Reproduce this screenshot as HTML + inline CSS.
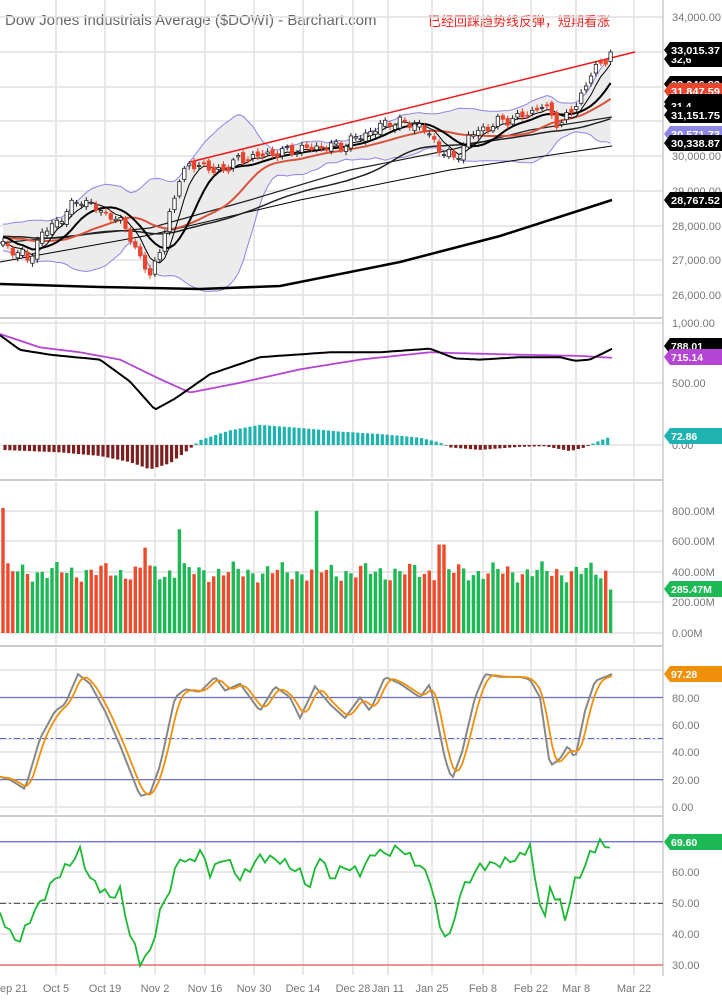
<!DOCTYPE html>
<html><head><meta charset="utf-8">
<style>
html,body{margin:0;padding:0;background:#fff;}
svg{display:block;font-family:"Liberation Sans","Noto Sans CJK SC",sans-serif;}
</style></head>
<body>
<svg id="c" width="722" height="1000" xmlns="http://www.w3.org/2000/svg">
<text x="5" y="25" font-size="15" fill="#666">Dow Jones Industrials Average ($DOWI) - Barchart.com</text>
<text x="428" y="26" font-size="13" fill="#e8251f" font-family="'Noto Sans CJK SC',sans-serif">已经回踩趋势线反弹，短期看涨</text>
</svg>
<script>
const S=document.getElementById('c');const NS='http://www.w3.org/2000/svg';
function el(t,a,txt){const e=document.createElementNS(NS,t);for(const k in a)e.setAttribute(k,a[k]);if(txt!==undefined)e.textContent=txt;S.appendChild(e);return e;}
function interp(kp,x){for(let i=0;i<kp.length-1;i++){if(x<=kp[i+1][0]){const t=(x-kp[i][0])/(kp[i+1][0]-kp[i][0]);return kp[i][1]+t*(kp[i+1][1]-kp[i][1]);}}return kp[kp.length-1][1];}
function pl(pts,stroke,w,extra){el('polyline',Object.assign({points:pts.map(p=>p[0].toFixed(1)+','+p[1].toFixed(1)).join(' '),fill:'none',stroke:stroke,'stroke-width':w},extra||{}));}
const PX=663;
const vx=[56,105,155,205,254,303,353,388,432,483,531,576,634];
const panels=[[0,316],[320,478],[482,644],[648,814],[818,975]];
const hg={0:[17,52,87,121,156,191,226,260,295],1:[323,383,445],2:[511,541,572,602,633],3:[670,698,725,739,752,780,807],4:[842,872,903,934,965]};
panels.forEach((p,i)=>{hg[i].forEach(y=>el('line',{x1:0,x2:PX,y1:y,y2:y,stroke:'#e0e0e0','stroke-width':1.5}));vx.forEach(x=>el('line',{x1:x,x2:x,y1:p[0],y2:p[1],stroke:'#e0e0e0','stroke-width':1.5}));});
[318,480,646,816].forEach(y=>el('line',{x1:0,x2:PX,y1:y,y2:y,stroke:'#ccc','stroke-width':2}));
el('line',{x1:PX,x2:PX,y1:0,y2:976,stroke:'#ccc','stroke-width':1.5});
const py=p=>17+(34000-p)*0.03475;
const kp=[[0,27500],[20,27200],[28,27000],[40,27700],[60,28200],[80,28800],[95,28500],[110,28300],[128,27900],[138,27100],[150,26600],[160,27300],[170,28300],[180,29500],[200,29800],[215,29500],[240,29900],[260,30000],[300,30200],[340,30300],[370,30700],[390,31000],[420,30900],[440,30200],[455,29900],[470,30600],[500,31000],[530,31200],[540,31500],[560,30900],[575,31400],[590,32300],[605,32800],[612,33015]];
const xs=[],C=[],O=[],H=[],L=[];
const hist=[];for(let i=0;i<60;i++)hist.push(27700+250*Math.sin(i*0.4)+100*Math.sin(i*1.7));
let prev=27500;
for(let x=3;x<=612;x+=4.9){xs.push(x);let c=interp(kp,x)+110*Math.sin(x*0.9)+70*Math.sin(x*2.3);const o=prev+90*Math.sin(x*1.3);C.push(c);O.push(o);H.push(Math.max(o,c)+60+50*Math.abs(Math.sin(x*0.7)));L.push(Math.min(o,c)-60-50*Math.abs(Math.cos(x*0.5)));prev=c;}
const all=hist.concat(C);const off=hist.length;
function sma(n,i){let s=0;for(let k=0;k<n;k++)s+=all[off+i-k];return s/n;}
function std(n,i){const m=sma(n,i);let s=0;for(let k=0;k<n;k++)s+=(all[off+i-k]-m)**2;return Math.sqrt(s/n);}
const up=[],lo=[];xs.forEach((x,i)=>{const m=sma(20,i),d=std(20,i);up.push([x,py(m+2*d)]);lo.push([x,py(m-2*d)]);});
el('path',{d:'M'+up.map(p=>p.join(',')).join('L')+'L'+lo.slice().reverse().map(p=>p.join(',')).join('L')+'Z',fill:'#ececec'});
pl(up,'#8c86e6',1);pl(lo,'#8c86e6',1);
pl([[0,284],[100,287],[200,289],[280,286],[400,262],[500,236],[612,200]],'#000',2.5);
pl([[0,262],[150,235],[300,200],[450,170],[612,146]],'#000',1);
pl([[0,243],[150,228],[250,200],[350,170],[450,150],[530,130],[612,117]],'#222',1.2);
pl(xs.map((x,i)=>[x,py(sma(50,i))]),'#222',1.5);
pl(xs.map((x,i)=>[x,py(sma(20,i))]),'#d9533a',2);
pl(xs.map((x,i)=>[x,py(sma(10,i))]),'#000',2);
pl(xs.map((x,i)=>[x,py(sma(5,i))]),'#000',1);
el('line',{x1:190,y1:162,x2:635,y2:52,stroke:'#f01818','stroke-width':1.5});
xs.forEach((x,i)=>{const o=O[i],c=C[i];const dn=c<o;const col=dn?'#e8452e':'#222';el('line',{x1:x,x2:x,y1:py(H[i]),y2:py(L[i]),stroke:col,'stroke-width':1});const t=py(Math.max(o,c)),b=py(Math.min(o,c));el('rect',{x:x-1.7,y:t,width:3.4,height:Math.max(1,b-t),fill:dn?'#e8452e':'#fff',stroke:col,'stroke-width':0.8});});
const my=v=>445-v*0.122;
const mk=[[0,900],[20,780],[50,740],[100,700],[130,520],[155,290],[175,380],[210,580],[260,720],[330,760],[380,760],[430,790],[455,710],[480,700],[520,720],[560,720],[575,690],[590,700],[612,788]];
const sk=[[0,910],[40,800],[80,760],[120,700],[160,540],[190,430],[240,510],[300,620],[360,700],[430,760],[470,750],[520,740],[580,730],[612,715]];
const hk=[[0,-40],[60,-60],[100,-90],[130,-140],[150,-200],[170,-150],[190,-30],[200,40],[230,120],[260,165],[300,140],[340,110],[380,90],[420,60],[440,20],[450,-20],[480,-40],[520,-15],[545,-10],[570,-50],[585,-20],[595,20],[612,73]];
for(let x=5;x<=612;x+=4.9){const v=interp(hk,x);const y0=445,y1=445-v*0.122;el('rect',{x:x-1.6,y:Math.min(y0,y1),width:3.2,height:Math.abs(y1-y0),fill:v<0?'#7b1f1f':'#1fb3b0'});}
const xx=[];for(let x=0;x<=612;x+=3)xx.push(x);
pl(xx.map(x=>[x,my(interp(sk,x))]),'#b545d4',1.8);
pl(xx.map(x=>[x,my(interp(mk,x))]),'#000',2);
const vy=v=>633-v*0.1525;
xs.forEach((x,i)=>{let v=400+40*Math.sin(i*1.9)+30*Math.sin(i*0.7);if(i==0)v=820;if(Math.abs(x-180)<3)v=680;if(Math.abs(x-318)<3)v=800;if(Math.abs(x-441)<3)v=580;if(Math.abs(x-146)<3)v=560;if(i==xs.length-1)v=285;const g=i==0?false:C[i]>=C[i-1];el('rect',{x:x-1.7,y:vy(v),width:3.4,height:633-vy(v),fill:g?'#1db954':'#ec4b2c'});});
const sy=v=>807-v*1.37;
el('line',{x1:0,x2:PX,y1:sy(80),y2:sy(80),stroke:'#5560d0','stroke-width':1});
el('line',{x1:0,x2:PX,y1:sy(20),y2:sy(20),stroke:'#5560d0','stroke-width':1});
el('line',{x1:0,x2:PX,y1:sy(50),y2:sy(50),stroke:'#5560d0','stroke-width':1,'stroke-dasharray':'6,3,2,3'});
const kk=[[0,22],[10,20],[25,13],[40,50],[55,70],[65,75],[78,97],[90,90],[105,70],[120,45],[140,8],[150,10],[160,30],[175,80],[185,86],[200,84],[215,95],[225,85],[240,90],[260,70],[275,88],[290,80],[300,65],[315,88],[330,75],[345,65],[360,80],[370,70],[385,95],[400,90],[420,80],[430,90],[445,35],[452,20],[462,40],[475,80],[485,97],[500,95],[520,95],[530,93],[540,80],[550,30],[560,35],[568,45],[575,35],[585,70],[595,92],[612,97]];
const kv=xx.map(x=>interp(kk,x));
const dv=kv.map((v,i)=>{let s=0,n=0;for(let k=0;k<4;k++){if(i-k>=0){s+=kv[i-k];n++;}}return s/n;});
pl(xx.map((x,i)=>[x,sy(kv[i])]),'#888',2);
pl(xx.map((x,i)=>[x,sy(dv[i])]),'#f0900a',1.8);
const ry=v=>965-(v-30)*3.08;
el('line',{x1:0,x2:PX,y1:ry(70),y2:ry(70),stroke:'#4455dd','stroke-width':1});
el('line',{x1:0,x2:PX,y1:ry(30),y2:ry(30),stroke:'#e33','stroke-width':1});
el('line',{x1:0,x2:PX,y1:ry(50),y2:ry(50),stroke:'#444','stroke-width':1,'stroke-dasharray':'6,3,2,3'});
const rk=[[0,47],[10,40],[20,38],[30,45],[40,50],[55,58],[70,63],[80,67],[90,58],[100,55],[110,52],[120,54],[130,40],[140,31],[150,34],[160,47],[170,55],[180,65],[190,63],[200,67],[210,60],[225,65],[240,58],[260,65],[280,64],[300,60],[310,55],[320,66],[330,58],[345,62],[360,60],[375,67],[385,66],[400,68],[410,65],[420,62],[430,58],[440,42],[450,39],[460,53],[470,58],[480,62],[500,63],[520,65],[530,69],[535,57],[545,45],[550,55],[560,50],[565,45],[575,57],[585,62],[590,66],[600,70],[605,68],[612,70]];
const rx=[];for(let x=0;x<=612;x+=5)rx.push(x);
pl(rx.map(x=>[x,ry(interp(rk,x)+1.5*Math.sin(x*0.8))]),'#1db934',1.8);
function lab(y,t){el('text',{x:672,y:y+4,'font-size':11,fill:'#777'},t);}
[['34,000.00',17],['30,000.00',156],['29,000.00',191],['28,000.00',226],['27,000.00',260],['26,000.00',295],['1,000.00',323],['500.00',383],['0.00',445],['800.00M',511],['600.00M',541],['400.00M',572],['200.00M',602],['0.00M',633],['80.00',698],['60.00',725],['40.00',752],['20.00',780],['0.00',807],['60.00',872],['50.00',903],['40.00',934],['30.00',965]].forEach(a=>lab(a[1],a[0]));
function tag(y,t,bg,fg){el('path',{d:`M664,${y} L670,${y-8} L722,${y-8} L722,${y+8} L670,${y+8} Z`,fill:bg});el('text',{x:671,y:y+4,'font-size':10.5,'font-weight':'bold',fill:fg,textLength:t.length>7?49:undefined,lengthAdjust:'spacingAndGlyphs'},t);}
tag(59,'32,6','#000','#fff');tag(50,'33,015.37','#000','#fff');
tag(84,'32,046.83','#000','#fff');tag(91,'31,847.59','#e8452e','#fff');
tag(102,'31,5','#000','#fff');tag(106,'31,4','#000','#fff');tag(115,'31,151.75','#000','#fff');
tag(134,'30,571.73','#8c86e6','#fff');tag(143,'30,338.87','#000','#fff');tag(200,'28,767.52','#000','#fff');
tag(346,'788.01','#000','#fff');tag(357,'715.14','#b545d4','#fff');tag(436,'72.86','#1fb3b0','#fff');
tag(589,'285.47M','#1db954','#fff');tag(674,'97.28','#f0900a','#fff');tag(842,'69.60','#1db954','#fff');
[['ep 21',0],['Oct 5',56],['Oct 19',105],['Nov 2',155],['Nov 16',205],['Nov 30',254],['Dec 14',303],['Dec 28',353],['Jan 11',388],['Jan 25',432],['Feb 8',483],['Feb 22',531],['Mar 8',576],['Mar 22',634]].forEach(a=>el('text',{x:a[1],y:992,'font-size':11,fill:'#777','text-anchor':a[1]==0?'start':'middle'},a[0]));
</script>
</body></html>
